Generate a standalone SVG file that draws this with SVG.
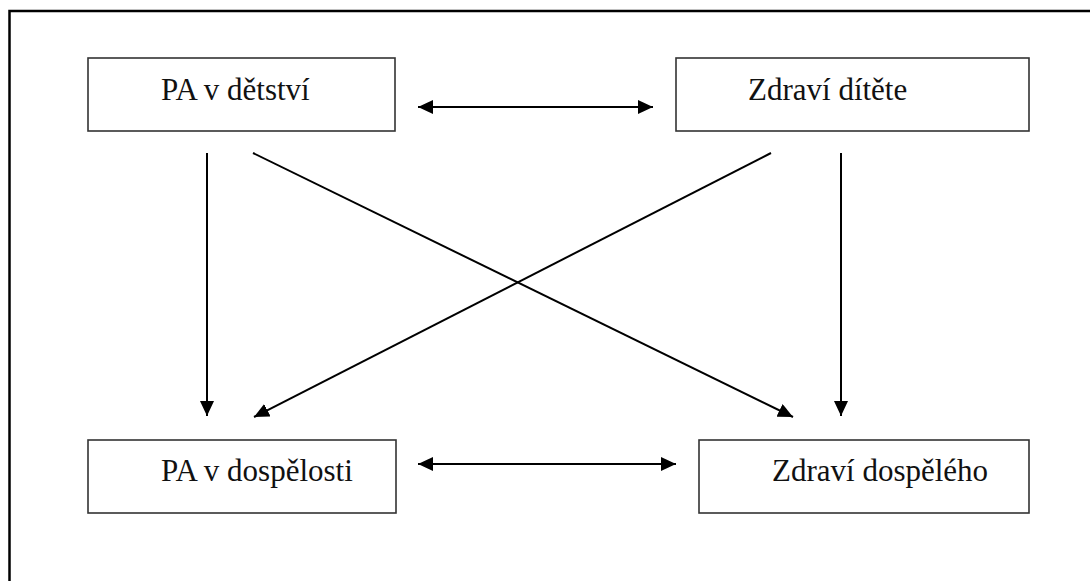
<svg xmlns="http://www.w3.org/2000/svg" width="1090" height="581" viewBox="0 0 1090 581">
<style>
.box{fill:#fff;stroke:#333;stroke-width:1.6}
.lbl{font-family:"Liberation Serif","Times New Roman",serif;font-size:31px;fill:#111}
.con{stroke:#000;stroke-width:2;fill:none}
.frame{stroke:#000;stroke-width:2.5;fill:none}
</style>
<defs>
<marker id="ah" viewBox="0 0 15 14" refX="15" refY="7" markerWidth="15" markerHeight="14" markerUnits="userSpaceOnUse" orient="auto-start-reverse">
<path d="M0,0 L15,7 L0,14 Z" fill="#000"/>
</marker>
</defs>
<path class="frame" d="M9.5,581 V11 H1090"/>
<g id="node-pa-detstvi">
<rect class="box" x="88" y="58" width="307" height="73"/>
<text class="lbl" x="161" y="100">PA v dětství</text>
</g>
<g id="node-zdravi-ditete">
<rect class="box" x="676" y="58" width="353" height="73"/>
<text class="lbl" x="748" y="100">Zdraví dítěte</text>
</g>
<g id="node-pa-dospelosti">
<rect class="box" x="88" y="440" width="308" height="73"/>
<text class="lbl" x="161" y="481">PA v dospělosti</text>
</g>
<g id="node-zdravi-dospeleho">
<rect class="box" x="699" y="440" width="330" height="73"/>
<text class="lbl" x="772" y="481">Zdraví dospělého</text>
</g>
<g id="connectors">
<line class="con" x1="418" y1="107" x2="653" y2="107" marker-start="url(#ah)" marker-end="url(#ah)"/>
<line class="con" x1="418" y1="464" x2="676" y2="464" marker-start="url(#ah)" marker-end="url(#ah)"/>
<line class="con" x1="207" y1="153" x2="207" y2="416" marker-end="url(#ah)"/>
<line class="con" x1="841" y1="153" x2="841" y2="416" marker-end="url(#ah)"/>
<line class="con" x1="253" y1="153" x2="793" y2="417" marker-end="url(#ah)"/>
<line class="con" x1="771" y1="153" x2="254" y2="417" marker-end="url(#ah)"/>
</g>
</svg>
